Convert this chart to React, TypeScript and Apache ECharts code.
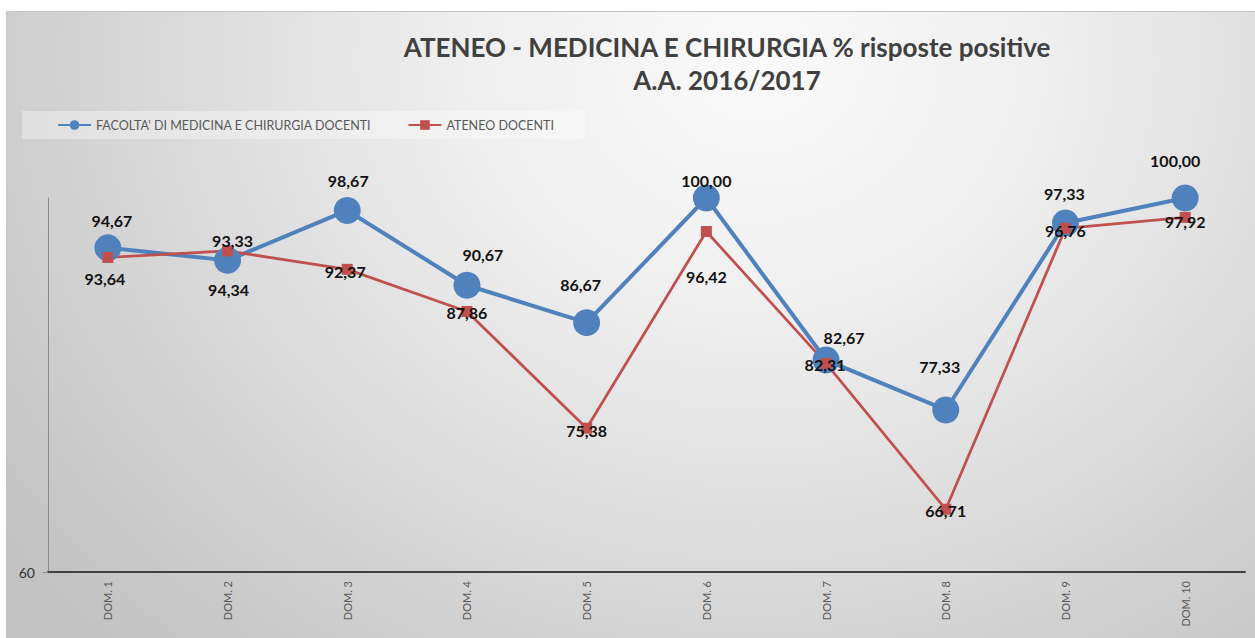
import React, { useEffect, useRef } from 'react';
import * as echarts from 'echarts';

const titleLines = ['ATENEO - MEDICINA E CHIRURGIA % risposte positive', 'A.A. 2016/2017'];
const categories = ['DOM. 1', 'DOM. 2', 'DOM. 3', 'DOM. 4', 'DOM. 5', 'DOM. 6', 'DOM. 7', 'DOM. 8', 'DOM. 9', 'DOM. 10'];
const facoltaName = "FACOLTA' DI MEDICINA E CHIRURGIA DOCENTI";
const ateneoName = 'ATENEO DOCENTI';
const facoltaValues = [94.67, 93.33, 98.67, 90.67, 86.67, 100.0, 82.67, 77.33, 97.33, 100.0];
const ateneoValues = [93.64, 94.34, 92.37, 87.86, 75.38, 96.42, 82.31, 66.71, 96.76, 97.92];
const yMin = 60;
const yMax = 100;
const yTickLabels = [60];

// label placement (layout only, relative to each marker centre)
const facoltaLabelOffsets = [[4, -27], [5, -20], [1, -30], [16, -31], [-6, -38], [0, -18], [18, -23], [-6, -43], [-1, -29], [-10, -38]];
const ateneoLabelOffsets = [[-3, 21], [1, 39], [-2, 2], [0, 1], [0, 2], [0, 45], [-1, 1], [0, 1], [0, 2], [0, 4]];

const fmt = (v: number) => v.toFixed(2).replace('.', ',');
const FONT = 'Lato, "Open Sans", sans-serif';

export default function App() {
  const ref = useRef<HTMLDivElement>(null);
  useEffect(() => {
    if (!ref.current) return;
    const chart = echarts.init(ref.current, undefined, { renderer: 'svg' });
    const labelBase = {
      show: true,
      position: 'inside',
      formatter: (p: any) => fmt(p.value),
      fontFamily: FONT,
      fontWeight: 'bold',
      fontSize: 16,
      color: '#111111',
    };
    chart.setOption({
      animation: false,
      title: {
        text: titleLines.join('\n'),
        left: 722,
        top: 25,
        textAlign: 'center',
        textStyle: {
          fontFamily: FONT,
          fontWeight: 'bold',
          fontSize: 26,
          lineHeight: 33,
          color: '#404040',
        },
      },
      legend: {
        data: [facoltaName, ateneoName],
        left: 22,
        top: 111,
        padding: [7.5, 31, 7.5, 35],
        itemWidth: 33,
        itemHeight: 12,
        itemGap: 36,
        backgroundColor: 'rgba(255,255,255,0.35)',
        textStyle: { fontFamily: FONT, fontSize: 12.5, color: '#595959' },
      },
      grid: { left: 48, right: 10, top: 198, bottom: 66, containLabel: false },
      xAxis: {
        type: 'category',
        data: categories,
        boundaryGap: true,
        axisLine: { lineStyle: { color: '#404040', width: 2 } },
        axisTick: { show: false },
        axisLabel: { rotate: 90, margin: 9, fontFamily: FONT, fontSize: 11, color: '#595959', interval: 0 },
        splitLine: { show: false },
      },
      yAxis: {
        type: 'value',
        min: yMin,
        max: yMax,
        interval: yMax - yMin,
        axisLine: { show: true, lineStyle: { color: '#8a8a8a', width: 1 } },
        axisTick: { show: true, length: 5, lineStyle: { color: '#8a8a8a' }, customValues: yTickLabels },
        axisLabel: {
          margin: 13,
          fontFamily: FONT,
          fontSize: 14,
          color: '#333333',
          customValues: yTickLabels,
          formatter: (v: number) => (yTickLabels.includes(v) ? String(v) : ''),
        },
        splitLine: { show: false },
      },
      series: [
        {
          name: facoltaName,
          type: 'line',
          data: facoltaValues.map((v, i) => ({ value: v, label: { offset: facoltaLabelOffsets[i] } })),
          symbol: 'circle',
          symbolSize: 27,
          lineStyle: { color: '#4F81BD', width: 4 },
          itemStyle: { color: '#4F81BD' },
          label: labelBase,
        },
        {
          name: ateneoName,
          type: 'line',
          data: ateneoValues.map((v, i) => ({ value: v, label: { offset: ateneoLabelOffsets[i] } })),
          symbol: 'rect',
          symbolSize: 11,
          lineStyle: { color: '#C0504D', width: 2.75 },
          itemStyle: { color: '#C0504D' },
          label: labelBase,
        },
      ],
    });
    return () => chart.dispose();
  }, []);
  return (
    <div style={{ position: 'fixed', left: 0, top: 0, width: 1255, height: 638, background: '#ffffff', overflow: 'hidden' }}>
      <div
        style={{
          position: 'absolute',
          left: 6,
          top: 11,
          width: 1249,
          height: 627,
          boxSizing: 'border-box',
          borderTop: '1px solid #c4c4c4',
          borderLeft: '1px solid #c4c4c4',
          background:
            'radial-gradient(ellipse 75% 130% at 60% 8%, #fafafa 0%, #efefef 30%, #dfdfdf 55%, #cecece 80%, #c2c2c2 100%)',
        }}
      />
      <div ref={ref} style={{ position: 'absolute', left: 0, top: 0, width: 1255, height: 638 }} />
    </div>
  );
}
